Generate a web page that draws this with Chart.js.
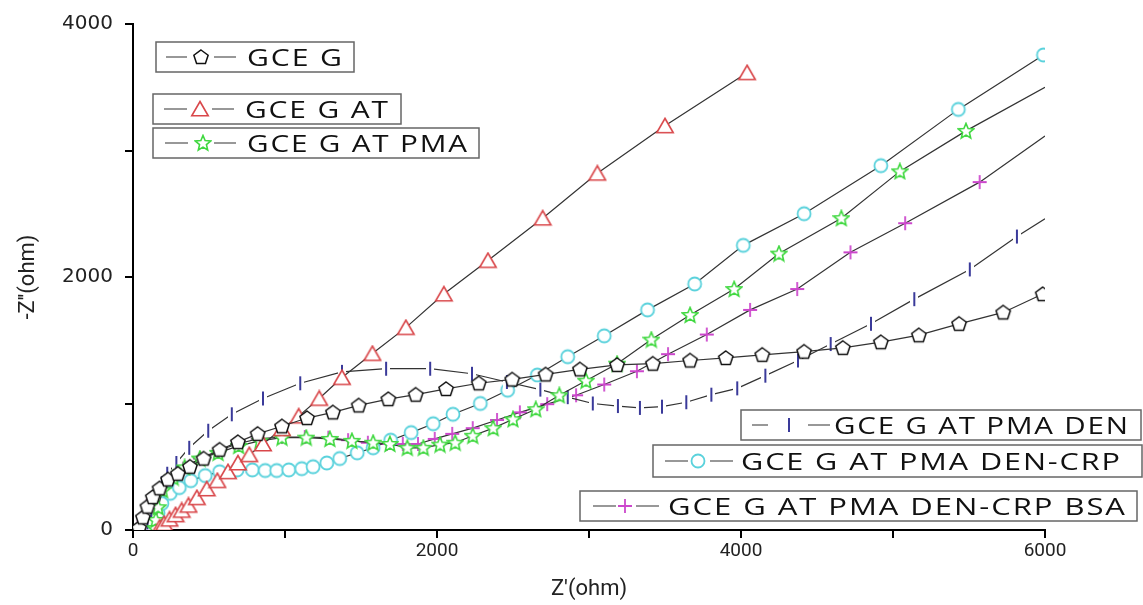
<!DOCTYPE html>
<html>
<head>
<meta charset="utf-8">
<script src="https://cdn.jsdelivr.net/npm/chart.js@4.4.0/dist/chart.umd.min.js"></script>
<style>
html, body { margin: 0; padding: 0; background: #fff; }
canvas { display: block; }
</style>
</head>
<body>
<canvas id="chart" width="1143" height="605"></canvas>
<script>
// Данные (Z' и -Z'' в омах)
const gceG_x = [40, 65, 95, 130, 175, 230, 295, 375, 465, 570, 690, 820, 980, 1145, 1315, 1485, 1680, 1860, 2060, 2275, 2495, 2715, 2940, 3185, 3420, 3665, 3900, 4140, 4415, 4670, 4920, 5170, 5435, 5725, 5985];
const gceG_y = [15, 100, 185, 260, 330, 400, 445, 500, 565, 635, 695, 760, 820, 885, 930, 985, 1035, 1070, 1115, 1160, 1190, 1230, 1270, 1305, 1315, 1340, 1360, 1385, 1410, 1440, 1485, 1540, 1630, 1720, 1865];

const gceGAT_x = [175, 205, 240, 280, 320, 365, 420, 485, 555, 625, 690, 765, 855, 980, 1090, 1225, 1375, 1575, 1795, 2045, 2335, 2695, 3055, 3500, 4040];
const gceGAT_y = [20, 50, 85, 120, 155, 195, 255, 325, 390, 460, 530, 595, 680, 800, 900, 1040, 1205, 1395, 1600, 1865, 2130, 2465, 2820, 3195, 3615];

const pma_x = [145, 150, 165, 195, 265, 340, 440, 560, 695, 835, 980, 1140, 1295, 1440, 1580, 1690, 1805, 1910, 2020, 2120, 2235, 2370, 2500, 2650, 2805, 2980, 3185, 3410, 3665, 3955, 4250, 4660, 5045, 5480, 6000];
const pma_y = [15, 80, 180, 315, 415, 495, 565, 610, 665, 705, 730, 730, 720, 705, 690, 680, 650, 650, 675, 690, 745, 805, 875, 955, 1065, 1180, 1315, 1505, 1700, 1905, 2185, 2465, 2835, 3155, 3500];

const den_x = [80, 95, 120, 150, 190, 225, 285, 370, 495, 650, 855, 1100, 1375, 1665, 1955, 2230, 2460, 2680, 2860, 3025, 3190, 3335, 3480, 3640, 3805, 3975, 4160, 4375, 4590, 4855, 5140, 5505, 5815, 6000];
const den_y = [10, 60, 150, 250, 370, 445, 530, 650, 785, 915, 1040, 1160, 1250, 1275, 1275, 1235, 1170, 1110, 1050, 1000, 980, 965, 975, 1010, 1070, 1120, 1220, 1340, 1470, 1630, 1825, 2060, 2320, 2460];

const crp_x = [145, 150, 165, 190, 245, 305, 380, 475, 570, 685, 785, 870, 945, 1025, 1110, 1185, 1275, 1360, 1475, 1580, 1695, 1830, 1975, 2105, 2285, 2465, 2660, 2860, 3100, 3385, 3695, 4015, 4415, 4920, 5430, 5990];
const crp_y = [0, 55, 135, 210, 290, 335, 390, 430, 460, 475, 475, 470, 470, 475, 485, 500, 530, 565, 610, 650, 710, 770, 840, 915, 1000, 1105, 1225, 1370, 1535, 1740, 1945, 2250, 2500, 2880, 3325, 3755];

const bsa_x = [45, 70, 95, 130, 190, 255, 330, 440, 555, 685, 820, 980, 1130, 1285, 1415, 1545, 1670, 1775, 1875, 1985, 2100, 2235, 2395, 2545, 2725, 2915, 3100, 3315, 3520, 3775, 4060, 4370, 4720, 5080, 5570, 6000];
const bsa_y = [20, 70, 135, 235, 335, 405, 485, 565, 625, 680, 720, 735, 735, 730, 710, 690, 680, 680, 680, 720, 760, 805, 870, 930, 995, 1065, 1150, 1255, 1390, 1545, 1740, 1905, 2195, 2425, 2750, 3115];

const seriesLabels = ["GCE G", "GCE G AT", "GCE G AT PMA", "GCE G AT PMA DEN", "GCE G AT PMA DEN-CRP", "GCE G AT PMA DEN-CRP BSA"];
const xTicks = [0, 2000, 4000, 6000];
const yTicks = [0, 2000, 4000];

// Маркеры рисуем на отдельных канвасах
function makeMarker(w, h, draw) {
    const c = document.createElement("canvas");
    c.width = w;
    c.height = h;
    draw(c.getContext("2d"), w / 2, h / 2);
    return c;
}

function polyPath(g, cx, cy, rOuter, rInner, n) {
    g.beginPath();
    const steps = rInner ? n * 2 : n;
    for (let i = 0; i < steps; i++) {
        const r = rInner && i % 2 ? rInner : rOuter;
        const a = -Math.PI / 2 + i * Math.PI * 2 / steps;
        const px = cx + r * Math.cos(a), py = cy + r * Math.sin(a);
        if (i === 0) g.moveTo(px, py); else g.lineTo(px, py);
    }
    g.closePath();
}

function hollow(color, lw, pathFn) {
    return function(g, cx, cy) {
        pathFn(g, cx, cy);
        g.fillStyle = "#fff";
        g.fill();
        g.strokeStyle = color;
        g.lineWidth = lw;
        g.stroke();
    };
}

const markers = [
    makeMarker(18, 18, hollow("#111", 1.5, (g, cx, cy) => polyPath(g, cx, cy + 0.5, 7.5, 0, 5))),
    makeMarker(20, 18, hollow("#d9474a", 1.6, (g, cx, cy) => polyPath(g, cx, cy + 2, 9.5, 0, 3))),
    makeMarker(18, 18, hollow("#3fd83f", 1.6, (g, cx, cy) => polyPath(g, cx, cy + 0.5, 8, 3.6, 5))),
    makeMarker(8, 16, (g, cx, cy) => {
        g.fillStyle = "#fff";
        g.fillRect(0, 1, 8, 14);
        g.strokeStyle = "#3a3a9a";
        g.lineWidth = 2;
        g.beginPath();
        g.moveTo(cx, 1);
        g.lineTo(cx, 15);
        g.stroke();
    }),
    makeMarker(18, 18, hollow("#5ad2dc", 1.8, (g, cx, cy) => { g.beginPath(); g.arc(cx, cy, 6.5, 0, Math.PI * 2); })),
    makeMarker(16, 16, (g, cx, cy) => {
        g.strokeStyle = "#cc47cc";
        g.lineWidth = 1.8;
        g.beginPath();
        g.moveTo(cx - 7, cy); g.lineTo(cx + 7, cy);
        g.moveTo(cx, cy - 7); g.lineTo(cx, cy + 7);
        g.stroke();
    })
];

function toPoints(xs, ys) {
    return xs.map((x, i) => ({ x: x, y: ys[i] }));
}

const allData = [
    toPoints(gceG_x, gceG_y),
    toPoints(gceGAT_x, gceGAT_y),
    toPoints(pma_x, pma_y),
    toPoints(den_x, den_y),
    toPoints(crp_x, crp_y),
    toPoints(bsa_x, bsa_y)
];

const datasets = allData.map((pts, i) => ({
    label: seriesLabels[i],
    data: pts,
    showLine: true,
    borderColor: "#333",
    borderWidth: 1.2,
    pointStyle: markers[i],
    // последняя точка на краю оси — только линия, без маркера
    pointRadius: ctx => (ctx.raw && ctx.raw.x >= 6000) ? 0 : 6,
    pointHoverRadius: 0
}));

// Легенда в виде отдельных рамок, как на исходной картинке
const legendBoxes = [
    { x1: 156, y1: 42, x2: 354, y2: 72, mark: 201, l1: [166, 187], l2: [214, 236], t1: 247, t2: 342 },
    { x1: 153, y1: 94, x2: 401, y2: 124, mark: 200, l1: [164, 187], l2: [212, 234], t1: 245, t2: 388 },
    { x1: 153, y1: 128, x2: 479, y2: 158, mark: 203, l1: [165, 188], l2: [214, 236], t1: 247, t2: 467 },
    { x1: 741, y1: 410, x2: 1141, y2: 440, mark: 789, l1: [752, 768], l2: [808, 830], t1: 834, t2: 1128 },
    { x1: 653, y1: 445, x2: 1142, y2: 477, mark: 698, l1: [665, 688], l2: [710, 733], t1: 741, t2: 1120 },
    { x1: 580, y1: 491, x2: 1137, y2: 521, mark: 625, l1: [593, 616], l2: [636, 659], t1: 668, t2: 1125 }
];

const boxLegend = {
    id: "boxLegend",
    afterDraw(chart) {
        const ctx = chart.ctx;
        const spacing = 1.5;
        ctx.save();
        ctx.font = "24px 'Open Sans'";
        ctx.textBaseline = "alphabetic";
        legendBoxes.forEach((b, i) => {
            ctx.fillStyle = "#fff";
            ctx.fillRect(b.x1, b.y1, b.x2 - b.x1, b.y2 - b.y1);
            ctx.strokeStyle = "#666";
            ctx.lineWidth = 1.5;
            ctx.strokeRect(b.x1, b.y1, b.x2 - b.x1, b.y2 - b.y1);
            const cy = (b.y1 + b.y2) / 2;
            ctx.strokeStyle = "#333";
            ctx.lineWidth = 1.2;
            ctx.beginPath();
            ctx.moveTo(b.l1[0], cy); ctx.lineTo(b.l1[1], cy);
            ctx.moveTo(b.l2[0], cy); ctx.lineTo(b.l2[1], cy);
            ctx.stroke();
            const m = markers[i];
            ctx.drawImage(m, b.mark - m.width / 2, cy - m.height / 2);
            // текст с небольшой разрядкой, растянутый по ширине как в оригинале
            const chars = seriesLabels[i].split("");
            const natural = chars.reduce((s, ch) => s + ctx.measureText(ch).width, 0) + spacing * (chars.length - 1);
            const sx = (b.t2 - b.t1) / natural;
            ctx.save();
            ctx.translate(b.t1, cy + 8.5);
            ctx.scale(sx, 1);
            let x = 0;
            ctx.fillStyle = "#111";
            chars.forEach(ch => {
                ctx.fillText(ch, x, 0);
                x += ctx.measureText(ch).width + spacing;
            });
            ctx.restore();
        });
        ctx.restore();
    }
};

new Chart(document.getElementById("chart"), {
    type: "scatter",
    data: { datasets: datasets },
    options: {
        responsive: false,
        animation: false,
        layout: { padding: { top: 19, right: 98, bottom: 0, left: 0 } },
        plugins: {
            legend: { display: false },
            tooltip: { enabled: false }
        },
        scales: {
            x: {
                type: "linear",
                min: 0,
                max: 6000,
                afterFit: s => { s.height = 75; },
                border: { display: true, color: "#000", width: 2 },
                grid: { drawOnChartArea: false, drawTicks: true, tickLength: 8, color: "#000", lineWidth: 2 },
                ticks: {
                    stepSize: 1000,
                    padding: 2,
                    color: "#222",
                    font: { family: "Roboto", size: 19 },
                    maxRotation: 0,
                    callback: v => xTicks.includes(v) ? String(v) : ""
                },
                title: {
                    display: true,
                    text: "Z'(ohm)",
                    color: "#222",
                    font: { family: "Roboto", size: 22 },
                    padding: { top: 0, bottom: 2 }
                }
            },
            y: {
                type: "linear",
                min: 0,
                max: 4000,
                afterFit: s => { s.width = 133; },
                border: { display: true, color: "#000", width: 2 },
                grid: { drawOnChartArea: false, drawTicks: true, tickLength: 8, color: "#000", lineWidth: 2 },
                ticks: {
                    stepSize: 1000,
                    padding: 12,
                    color: "#222",
                    font: { family: "DejaVu Sans", size: 20 },
                    callback: v => yTicks.includes(v) ? String(v) : ""
                },
                title: {
                    display: true,
                    text: "-Z''(ohm)",
                    color: "#222",
                    font: { family: "Roboto", size: 22 },
                    padding: { top: 15, bottom: 0 }
                }
            }
        }
    },
    plugins: [boxLegend]
});
</script>
</body>
</html>
